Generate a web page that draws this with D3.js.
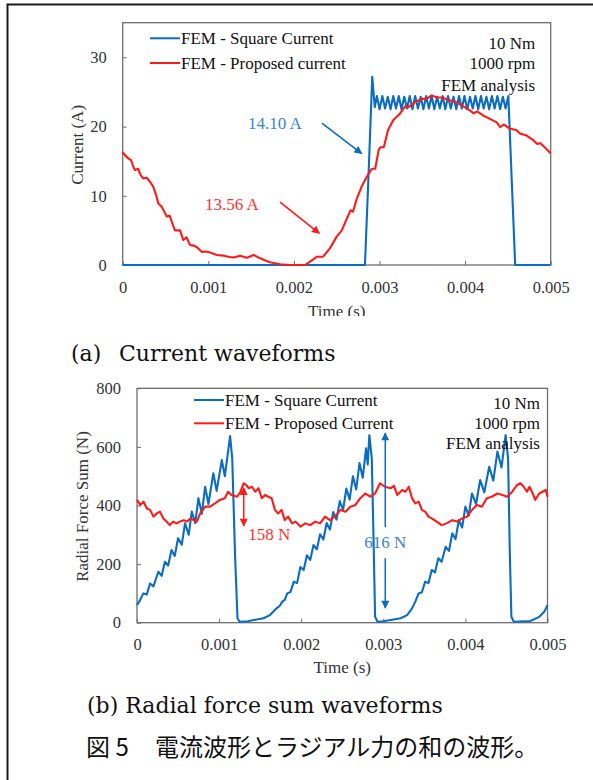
<!DOCTYPE html>
<html>
<head>
<meta charset="utf-8">
<title>Current and radial force waveforms</title>
<style>
body { margin: 0; background: #fff; }
svg { display: block; }
text { font-family: "Liberation Serif", "Times New Roman", serif; }
.tick text { font-size: 16.5px; fill: #333; }
.axis path, .axis line { stroke: #6e6e6e; }
.caption { font-family: "DejaVu Serif", serif; font-size: 22px; fill: #111; }
.caption-jp { font-family: "Noto Sans CJK JP", sans-serif; font-size: 24px; fill: #111; }
</style>
</head>
<body>
<svg width="593" height="780"></svg>
<script src="https://cdnjs.cloudflare.com/ajax/libs/d3/7.8.5/d3.min.js"></script>
<script>

// ---- data (time in ms) ----
var timeTicks = [0, 0.001, 0.002, 0.003, 0.004, 0.005];
var currentTicks = [0, 10, 20, 30];
var forceTicks = [0, 200, 400, 600, 800];

var seriesNames = ["FEM - Square Current", "FEM - Proposed current"];
var forceSeriesNames = ["FEM - Square Current", "FEM - Proposed Current"];
var conditionLines = ["10 Nm", "1000 rpm", "FEM analysis"];

// (a) square current, A
var squareCurrent = [
  [0,0],[2.83,0],[2.875,14],[2.915,27.2],[2.945,22.8],
  [2.969,24.4],[3.001,22.5],[3.033,24.4],[3.065,22.6],[3.097,24.3],[3.129,22.5],[3.161,24.4],
  [3.193,22.6],[3.225,24.4],[3.257,22.5],[3.289,24.3],[3.321,22.6],[3.353,24.4],[3.385,22.5],
  [3.417,24.4],[3.449,22.6],[3.481,24.3],[3.513,22.5],[3.545,24.4],[3.577,22.6],[3.609,24.4],
  [3.641,22.5],[3.673,24.3],[3.705,22.6],[3.737,24.4],[3.769,22.5],[3.801,24.4],[3.833,22.6],
  [3.865,24.3],[3.897,22.5],[3.929,24.4],[3.961,22.6],[3.993,24.4],[4.025,22.5],[4.057,24.3],
  [4.089,22.6],[4.121,24.4],[4.153,22.5],[4.185,24.4],[4.217,22.6],[4.249,24.3],[4.281,22.5],
  [4.313,24.4],[4.345,22.6],[4.377,24.4],[4.409,22.5],[4.441,24.3],[4.473,22.6],[4.505,24.4],
  [4.585,0],[5,0]
];

// (a) proposed current, A
var proposedCurrent = [
  [0,16.3],[0.03,15.8],[0.065,15.4],[0.1,15.1],[0.12,14.3],[0.144,13.7],[0.18,13.9],[0.21,13.0],
  [0.24,12.5],[0.28,12.6],[0.32,12.0],[0.357,11.3],[0.39,10.1],[0.416,8.9],[0.456,8.4],[0.49,7.6],
  [0.514,7.0],[0.55,7.1],[0.58,6.0],[0.61,5.0],[0.67,5.0],[0.708,3.6],[0.745,4.0],[0.786,2.9],
  [0.83,2.8],[0.864,2.6],[0.923,1.9],[0.97,1.95],[1.02,1.8],[1.10,1.45],[1.18,1.35],[1.25,1.15],
  [1.30,1.1],[1.37,1.35],[1.45,1.05],[1.53,1.45],[1.60,1.0],[1.66,0.7],[1.72,0.4],[1.84,0.1],
  [1.95,0],[2.13,0],[2.19,0.5],[2.27,1.2],[2.34,1.2],[2.42,2.4],[2.50,4.1],[2.56,5.0],[2.60,6.2],
  [2.63,7.0],[2.66,7.9],[2.69,7.7],[2.73,9.4],[2.79,11.3],[2.85,12.7],[2.91,13.9],[2.95,13.9],
  [2.99,16.6],[3.01,17.0],[3.05,17.0],[3.10,19.5],[3.16,20.9],[3.24,21.9],[3.30,22.9],[3.34,22.8],
  [3.41,23.5],[3.49,24.0],[3.55,24.0],[3.61,24.5],[3.67,24.2],[3.73,24.2],[3.82,23.8],[3.90,23.5],
  [3.98,22.9],[4.06,22.3],[4.10,21.9],[4.14,22.2],[4.21,21.6],[4.29,21.1],[4.37,20.6],[4.41,19.9],
  [4.45,20.3],[4.52,19.7],[4.60,19.5],[4.64,19.0],[4.72,18.7],[4.80,18.0],[4.84,17.5],[4.88,17.6],
  [4.93,17.0],[4.97,16.5],[5.0,16.1]
];

// (b) radial force sum with square current, N
var squareForce = [
  [0,60],[0.037,77],[0.077,100],[0.118,96],[0.159,134],[0.2,124],[0.26,174],[0.30,160],[0.34,208],
  [0.38,195],[0.42,248],[0.46,228],[0.50,288],[0.545,266],[0.585,339],[0.63,300],[0.667,379],
  [0.71,340],[0.748,425],[0.79,372],[0.83,464],[0.87,405],[0.93,510],[0.97,450],[1.033,555],
  [1.07,500],[1.134,637],[1.16,560],[1.195,225],[1.224,15],[1.25,3],
  [1.35,5],[1.42,9],[1.54,15],[1.62,26],[1.70,49],[1.74,58],[1.77,72],[1.80,78],[1.83,100],
  [1.87,105],[1.91,140],[1.95,135],[1.99,190],[2.03,180],[2.07,230],[2.11,214],[2.15,265],
  [2.19,250],[2.23,302],[2.27,284],[2.31,340],[2.35,318],[2.39,378],[2.43,352],[2.47,415],
  [2.51,385],[2.55,458],[2.59,420],[2.63,500],[2.67,455],[2.71,545],[2.75,495],[2.79,595],
  [2.81,540],[2.83,640],[2.86,560],[2.88,300],[2.90,20],[2.93,3],
  [3.00,5],[3.09,9],[3.21,15],[3.29,26],[3.35,49],[3.39,72],[3.43,100],[3.47,104],[3.51,140],
  [3.55,135],[3.59,180],[3.63,172],[3.67,220],[3.71,208],[3.76,259],[3.80,245],[3.84,305],
  [3.88,285],[3.92,350],[3.96,325],[4.00,396],[4.04,365],[4.08,441],[4.13,405],[4.18,487],
  [4.23,445],[4.29,532],[4.34,485],[4.39,584],[4.44,530],[4.49,640],[4.52,560],[4.54,250],
  [4.56,20],[4.59,3],[4.79,6],[4.90,20],[4.96,37],[5.0,60]
];

// (b) radial force sum with proposed current, N
var proposedForce = [
  [0,419],[0.04,402],[0.08,413],[0.12,390],[0.16,385],[0.2,362],[0.24,373],[0.28,379],[0.32,356],
  [0.36,345],[0.40,333],[0.44,345],[0.48,339],[0.52,345],[0.57,350],[0.61,345],[0.65,356],
  [0.69,350],[0.73,345],[0.77,373],[0.83,396],[0.89,396],[0.95,407],[1.01,419],[1.07,425],
  [1.11,447],[1.15,436],[1.22,430],[1.26,447],[1.30,476],[1.33,470],[1.36,459],[1.40,464],
  [1.44,447],[1.48,459],[1.52,425],[1.56,436],[1.60,430],[1.64,425],[1.68,385],[1.72,373],
  [1.76,385],[1.80,350],[1.84,362],[1.89,339],[1.93,345],[1.99,328],[2.05,339],[2.11,333],
  [2.17,345],[2.23,339],[2.29,362],[2.35,350],[2.41,362],[2.48,385],[2.54,379],[2.60,396],
  [2.66,402],[2.72,425],[2.78,441],[2.84,430],[2.90,441],[2.96,476],[3.02,464],[3.09,459],
  [3.13,467],[3.17,436],[3.23,453],[3.27,447],[3.31,464],[3.35,425],[3.39,407],[3.43,413],
  [3.47,385],[3.51,379],[3.55,362],[3.59,356],[3.65,345],[3.71,333],[3.77,339],[3.84,350],
  [3.90,345],[3.96,356],[4.02,362],[4.08,385],[4.14,402],[4.20,396],[4.26,425],[4.32,430],
  [4.39,441],[4.45,436],[4.51,430],[4.57,447],[4.63,470],[4.67,476],[4.71,464],[4.75,447],
  [4.78,464],[4.82,441],[4.85,419],[4.90,441],[4.94,447],[4.98,453],[5.0,430]
];

// ---- drawing ----
var svg = d3.select("svg");
var BLUE = "#0b6cc0", RED = "#ff1a1a", BLUE_TXT = "#3a86c8", RED_TXT = "#ff3030";

var defs = svg.append("defs");
[["arrow-blue", BLUE], ["arrow-red", RED]].forEach(function(m) {
  defs.append("marker")
      .attr("id", m[0])
      .attr("viewBox", "0 0 10 10")
      .attr("refX", 9).attr("refY", 5)
      .attr("markerUnits", "userSpaceOnUse")
      .attr("markerWidth", 9).attr("markerHeight", 8)
      .attr("orient", "auto-start-reverse")
    .append("path")
      .attr("d", "M0,0L10,5L0,10z")
      .attr("fill", m[1]);
});
defs.append("clipPath").attr("id", "crop-a")
  .append("rect").attr("x", 0).attr("y", 0).attr("width", 593).attr("height", 316);

// outer frame of the figure
svg.append("path")
    .attr("d", "M7.5,790V4.5H600")
    .attr("fill", "none")
    .attr("stroke", "#1a1a1a")
    .attr("stroke-width", 2);

var fmtTime = function(d) { return d === 0 ? "0" : d3.format(".3f")(d); };

function panel(opt) {
  var x = d3.scaleLinear().domain([0, 0.005]).range([opt.left, opt.right]);
  var y = d3.scaleLinear().domain(opt.yDomain).range([opt.bottom, opt.top]);
  var g = svg.append("g");

  g.append("g").attr("class", "axis")
      .attr("transform", "translate(0," + opt.bottom + ")")
      .call(d3.axisBottom(x).tickValues(timeTicks).tickFormat(fmtTime).tickSize(-4).tickPadding(16))
      .call(function(a) { a.select(".domain").remove(); });
  g.append("g").attr("class", "axis")
      .attr("transform", "translate(" + opt.left + ",0)")
      .call(d3.axisLeft(y).tickValues(opt.yTicks).tickSize(-4).tickPadding(16))
      .call(function(a) { a.select(".domain").remove(); });

  // plot box
  g.append("rect")
      .attr("x", opt.left).attr("y", opt.top)
      .attr("width", opt.right - opt.left).attr("height", opt.bottom - opt.top)
      .attr("fill", "none").attr("stroke", "#6e6e6e").attr("stroke-width", 1.3);

  var line = d3.line()
      .x(function(d) { return x(d[0] / 1000); })
      .y(function(d) { return y(d[1]); });

  opt.series.forEach(function(s) {
    g.append("path")
        .datum(s.data)
        .attr("fill", "none")
        .attr("stroke", s.color)
        .attr("stroke-width", 2.1)
        .attr("stroke-linejoin", "round")
        .attr("d", line);
  });

  // axis titles
  g.append("text")
      .attr("x", (opt.left + opt.right) / 2).attr("y", opt.xTitleY)
      .attr("text-anchor", "middle").attr("font-size", 17).attr("fill", "#333")
      .attr("clip-path", opt.clip || null)
      .text("Time (s)");
  g.append("text")
      .attr("transform", "translate(" + opt.yTitleX + "," + ((opt.top + opt.bottom) / 2 + opt.yTitleShift) + ")rotate(-90)")
      .attr("text-anchor", "middle").attr("dy", "0.35em").attr("font-size", 17).attr("fill", "#333")
      .text(opt.yTitle);

  // legend
  opt.series.forEach(function(s, i) {
    var ly = opt.legendY + i * opt.legendStep;
    g.append("line")
        .attr("x1", opt.legendX).attr("x2", opt.legendX + 30)
        .attr("y1", ly).attr("y2", ly)
        .attr("stroke", s.color).attr("stroke-width", 2);
    g.append("text")
        .attr("x", opt.legendX + 31).attr("y", ly).attr("dy", "0.35em")
        .attr("font-size", 17).attr("fill", "#111")
        .text(s.name);
  });

  // operating conditions
  conditionLines.forEach(function(t, i) {
    g.append("text")
        .attr("x", opt.right - opt.condInset).attr("y", opt.top + opt.condY[i]).attr("dy", "0.35em")
        .attr("text-anchor", "end").attr("font-size", 17).attr("fill", "#111")
        .text(t);
  });

  return { g: g, x: x, y: y };
}

// (a) current waveforms
var pa = panel({
  left: 122.7, right: 550.7, top: 22.7, bottom: 265,
  yDomain: [0, 35], yTicks: currentTicks, yTitle: "Current (A)",
  yTitleX: 77, yTitleShift: 1, xTitleY: 317, clip: "url(#crop-a)",
  legendX: 150, legendY: 38.3, legendStep: 24.7,
  condInset: 15.5, condY: [20.5, 40.5, 62],
  series: [
    { name: seriesNames[0], color: BLUE, data: squareCurrent },
    { name: seriesNames[1], color: RED, data: proposedCurrent }
  ]
});

pa.g.append("text")
    .attr("x", pa.x(0.001464)).attr("y", pa.y(20.5)).attr("dy", "0.35em")
    .attr("font-size", 17).attr("fill", BLUE_TXT).text("14.10 A");
pa.g.append("line")
    .attr("x1", pa.x(0.002327)).attr("y1", pa.y(20.5))
    .attr("x2", pa.x(0.002792)).attr("y2", pa.y(16.1))
    .attr("stroke", BLUE).attr("stroke-width", 1.6).attr("marker-end", "url(#arrow-blue)");
pa.g.append("text")
    .attr("x", pa.x(0.000961)).attr("y", pa.y(8.8)).attr("dy", "0.35em")
    .attr("font-size", 17).attr("fill", RED_TXT).text("13.56 A");
pa.g.append("line")
    .attr("x1", pa.x(0.001838)).attr("y1", pa.y(9.1))
    .attr("x2", pa.x(0.002297)).attr("y2", pa.y(4.57))
    .attr("stroke", RED).attr("stroke-width", 1.6).attr("marker-end", "url(#arrow-red)");

// (b) radial force sum waveforms
var pb = panel({
  left: 137, right: 547.5, top: 388.3, bottom: 622.7,
  yDomain: [0, 800], yTicks: forceTicks, yTitle: "Radial Force Sum (N)",
  yTitleX: 81.7, yTitleShift: 1, xTitleY: 673,
  legendX: 194, legendY: 400, legendStep: 23.3,
  condInset: 7.5, condY: [14.4, 34.7, 54.4],
  series: [
    { name: forceSeriesNames[0], color: BLUE, data: squareForce },
    { name: forceSeriesNames[1], color: RED, data: proposedForce }
  ]
});

pb.g.append("line")
    .attr("x1", pb.x(0.0013)).attr("y1", pb.y(460))
    .attr("x2", pb.x(0.0013)).attr("y2", pb.y(330))
    .attr("stroke", RED).attr("stroke-width", 1.5)
    .attr("marker-start", "url(#arrow-red)").attr("marker-end", "url(#arrow-red)");
pb.g.append("text")
    .attr("x", pb.x(0.001354)).attr("y", pb.y(303)).attr("dy", "0.35em")
    .attr("font-size", 17).attr("fill", RED_TXT).text("158 N");

pb.g.append("line")
    .attr("x1", pb.x(0.003024)).attr("y1", pb.y(326))
    .attr("x2", pb.x(0.003024)).attr("y2", pb.y(647))
    .attr("stroke", BLUE).attr("stroke-width", 1.5).attr("marker-end", "url(#arrow-blue)");
pb.g.append("line")
    .attr("x1", pb.x(0.003024)).attr("y1", pb.y(220))
    .attr("x2", pb.x(0.003024)).attr("y2", pb.y(50))
    .attr("stroke", BLUE).attr("stroke-width", 1.5).attr("marker-end", "url(#arrow-blue)");
pb.g.append("text")
    .attr("x", pb.x(0.003024)).attr("y", pb.y(276)).attr("dy", "0.35em")
    .attr("text-anchor", "middle").attr("font-size", 17).attr("fill", BLUE_TXT).text("616 N");

// captions
svg.append("text").attr("class", "caption").attr("x", 71).attr("y", 361).text("(a)");
svg.append("text").attr("class", "caption").attr("x", 119).attr("y", 361).text("Current waveforms");
svg.append("text").attr("class", "caption").attr("x", 87).attr("y", 713).text("(b) Radial force sum waveforms");
svg.append("text").attr("class", "caption-jp").attr("x", 86).attr("y", 756).text("図 5");
svg.append("text").attr("class", "caption-jp").attr("x", 155).attr("y", 756)
    .text("電流波形とラジアル力の和の波形。");

</script>
</body>
</html>
